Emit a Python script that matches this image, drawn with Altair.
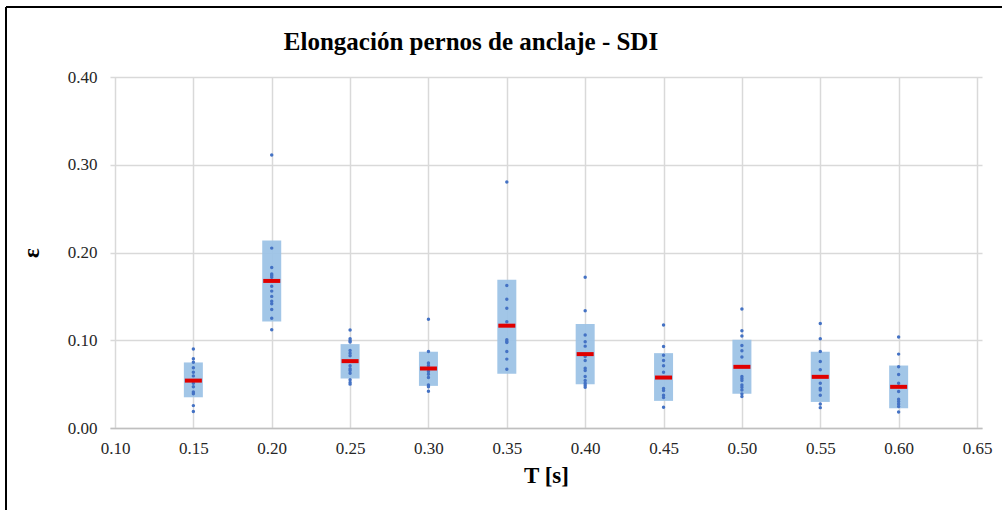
import altair as alt
import pandas as pd

title_text = "Elongación pernos de anclaje - SDI"
periods = [0.15, 0.20, 0.25, 0.30, 0.35, 0.40, 0.45, 0.50, 0.55, 0.60]
box_low = [0.035, 0.1215, 0.0564, 0.048, 0.0617, 0.050, 0.0309, 0.0389, 0.0297, 0.0225]
box_high = [0.0747, 0.2137, 0.0956, 0.0869, 0.169, 0.1185, 0.0853, 0.1006, 0.0869, 0.0712]
medians = [0.054, 0.1676, 0.0762, 0.0678, 0.1166, 0.0842, 0.0575, 0.0697, 0.0583, 0.0469]
samples = [
    [0.090, 0.079, 0.075, 0.0686, 0.0636, 0.0594, 0.051, 0.047, 0.041, 0.039, 0.0255, 0.0187],
    [0.311, 0.205, 0.183, 0.1756, 0.1737, 0.1718, 0.1615, 0.156, 0.150, 0.1444, 0.1417, 0.135, 0.125, 0.112],
    [0.1116, 0.1017, 0.0994, 0.098, 0.0884, 0.0853, 0.0823, 0.0709, 0.0674, 0.0655, 0.0625, 0.0549, 0.052, 0.050],
    [0.124, 0.0872, 0.074, 0.0712, 0.0644, 0.0613, 0.0575, 0.049, 0.047, 0.042],
    [0.2804, 0.1623, 0.1467, 0.1364, 0.1211, 0.1006, 0.0987, 0.0975, 0.0872, 0.0785, 0.067],
    [0.1718, 0.1337, 0.1059, 0.0983, 0.0933, 0.0815, 0.0770, 0.0682, 0.0655, 0.0587, 0.0541, 0.051, 0.0488, 0.0465],
    [0.1173, 0.093, 0.083, 0.077, 0.0709, 0.0636, 0.045, 0.0427, 0.0374, 0.0347, 0.0236],
    [0.1356, 0.1109, 0.1048, 0.0941, 0.088, 0.0808, 0.0587, 0.0564, 0.0541, 0.0491, 0.0465, 0.0434, 0.0389, 0.0358],
    [0.1192, 0.1017, 0.0872, 0.0758, 0.0663, 0.051, 0.0453, 0.0434, 0.0374, 0.0274, 0.0232],
    [0.1036, 0.0842, 0.0697, 0.0609, 0.051, 0.0415, 0.0328, 0.0301, 0.0274, 0.0244, 0.0183],
]

FONT = "Times New Roman, Liberation Serif, serif"

summary = pd.DataFrame({"T": periods, "lo": box_low, "hi": box_high, "med": medians})
pts = pd.DataFrame(
    [{"T": t, "e": v} for t, vals in zip(periods, samples) for v in vals]
)

x_scale = alt.Scale(domain=[0.10, 0.65], nice=False, zero=False)
y_scale = alt.Scale(domain=[0.0, 0.40], nice=False)

x_enc = alt.X(
    "T:Q",
    scale=x_scale,
    title="T [s]",
    axis=alt.Axis(
        values=[0.10, 0.15, 0.20, 0.25, 0.30, 0.35, 0.40, 0.45, 0.50, 0.55, 0.60, 0.65],
        format=".2f",
        ticks=False,
        labelPadding=12,
        titlePadding=8,
        domainColor="#bfbfbf",
        domainWidth=1.5,
    ),
)

boxes = alt.Chart(summary).mark_bar(size=19, color="#9DC3E6", opacity=0.95).encode(
    x=x_enc,
    y=alt.Y(
        "lo:Q",
        scale=y_scale,
        title="ε",
        axis=alt.Axis(
            values=[0.0, 0.1, 0.2, 0.3, 0.4],
            format=".2f",
            ticks=False,
            domain=False,
            labelPadding=13,
            titlePadding=24,
        ),
    ),
    y2="hi:Q",
)

dots = alt.Chart(pts).mark_circle(size=12, color="#4472C4", opacity=1).encode(
    x="T:Q", y="e:Q"
)

med_ticks = alt.Chart(summary).mark_tick(
    orient="horizontal", size=17, thickness=4, color="#E00000", opacity=1
).encode(x="T:Q", y="med:Q")

one = pd.DataFrame({"label": [title_text]})
title_mark = alt.Chart(one).mark_text(
    font=FONT, fontSize=25, fontWeight="bold", color="black",
    align="center", baseline="alphabetic",
).encode(x=alt.value(361), y=alt.value(-27), text="label:N")

frame_top = alt.Chart(one).mark_rule(color="black", strokeWidth=2).encode(
    x=alt.value(-104), x2=alt.value(892), y=alt.value(-70)
)
frame_left = alt.Chart(one).mark_rule(color="black", strokeWidth=2).encode(
    x=alt.value(-104), y=alt.value(-70), y2=alt.value(440)
)

chart = (
    alt.layer(boxes, dots, med_ticks, title_mark, frame_top, frame_left)
    .properties(
        width=872,
        height=351,
        autosize=alt.AutoSizeParams(type="none"),
        padding={"left": 110, "top": 77, "right": 26, "bottom": 82},
    )
    .configure_view(strokeWidth=0)
    .configure_axis(
        labelFont=FONT,
        labelFontSize=17,
        labelColor="#262626",
        titleFont=FONT,
        titleFontSize=23,
        titleFontWeight="bold",
        titleColor="black",
        gridColor="#d9d9d9",
        gridWidth=1.5,
    )
    .configure_axisY(titleAngle=-90)
)

chart.save("out.html", embed_options={"renderer": "svg", "actions": False})
